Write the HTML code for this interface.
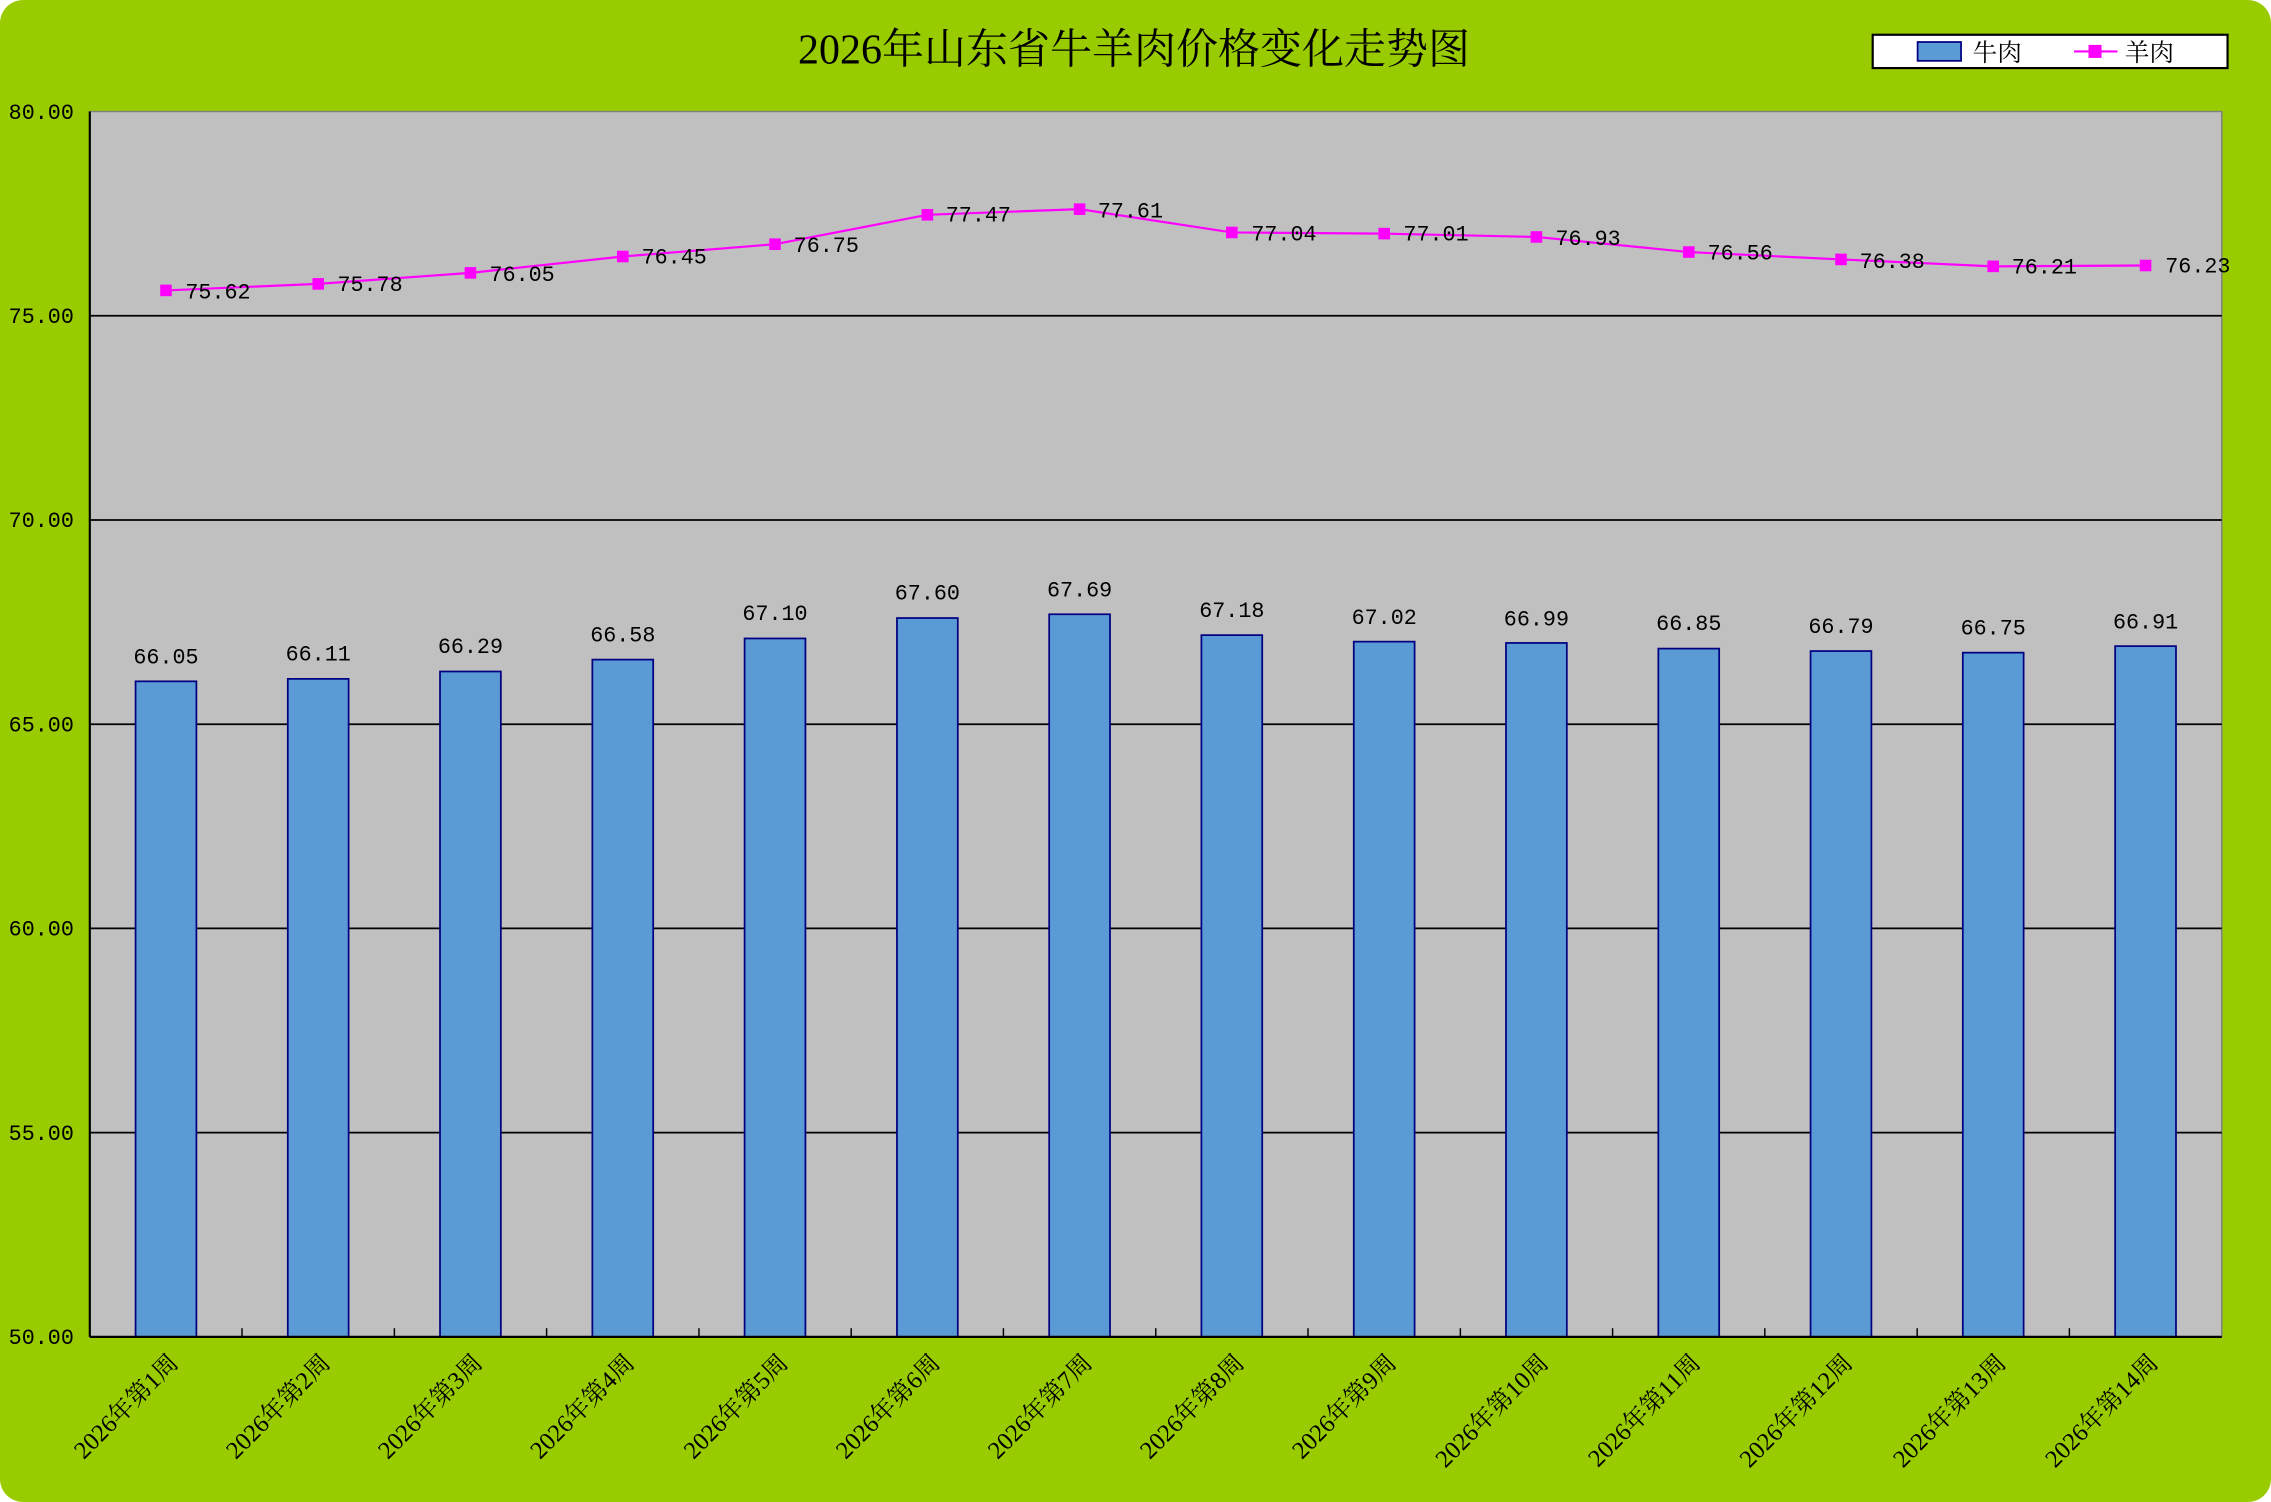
<!DOCTYPE html>
<html><head><meta charset="utf-8"><style>
html,body{margin:0;padding:0;background:#fff;}
svg{display:block;}
text{font-family:"Liberation Serif","Noto Serif CJK SC",serif;fill:#000;}
.m{font-family:"Liberation Mono","Noto Serif CJK SC",monospace;}
</style></head><body>
<svg width="2271" height="1502" viewBox="0 0 1568 1037" preserveAspectRatio="none" xmlns="http://www.w3.org/2000/svg">
<rect x="0" y="0" width="1568" height="1037" rx="16" fill="#99cc00"/>
<text x="783" y="44" font-size="29" text-anchor="middle">2026年山东省牛羊肉价格变化走势图</text>
<rect x="1293" y="24" width="245" height="23" fill="#fff" stroke="#000" stroke-width="1.5"/>
<rect x="1324" y="29" width="30" height="13" fill="#5b9bd5" stroke="#000080" stroke-width="1.2"/>
<text x="1362" y="42" font-size="17">牛肉</text>
<line x1="1432" y1="35.5" x2="1462" y2="35.5" stroke="#ff00ff" stroke-width="1.5"/>
<rect x="1442" y="31" width="9" height="9" fill="#ff00ff"/>
<text x="1467" y="42" font-size="17">羊肉</text>
<rect x="62" y="77" width="1472" height="846" fill="#c0c0c0" stroke="#808080" stroke-width="1"/>
<g stroke="#000" stroke-width="1.2">
<line x1="62" y1="218" x2="1534" y2="218"/>
<line x1="62" y1="359" x2="1534" y2="359"/>
<line x1="62" y1="500" x2="1534" y2="500"/>
<line x1="62" y1="641" x2="1534" y2="641"/>
<line x1="62" y1="782" x2="1534" y2="782"/>
</g>
<g font-size="15" text-anchor="end" class="m">
<text class="m" x="51" y="82">80.00</text><text class="m" x="51" y="223">75.00</text><text class="m" x="51" y="364">70.00</text>
<text class="m" x="51" y="505">65.00</text><text class="m" x="51" y="646">60.00</text><text class="m" x="51" y="787">55.00</text><text class="m" x="51" y="928">50.00</text>
</g>
<g fill="#5b9bd5" stroke="#000080" stroke-width="1.2">
<rect x="93.6" y="470.4" width="42" height="452.6"/>
<rect x="198.7" y="468.7" width="42" height="454.3"/>
<rect x="303.8" y="463.6" width="42" height="459.4"/>
<rect x="409" y="455.4" width="42" height="467.6"/>
<rect x="514.1" y="440.8" width="42" height="482.2"/>
<rect x="619.3" y="426.7" width="42" height="496.3"/>
<rect x="724.4" y="424.1" width="42" height="498.9"/>
<rect x="829.5" y="438.5" width="42" height="484.5"/>
<rect x="934.7" y="443" width="42" height="480"/>
<rect x="1039.8" y="443.9" width="42" height="479.1"/>
<rect x="1145" y="447.8" width="42" height="475.2"/>
<rect x="1250.1" y="449.5" width="42" height="473.5"/>
<rect x="1355.2" y="450.6" width="42" height="472.4"/>
<rect x="1460.4" y="446.1" width="42" height="476.9"/>
</g>
<g stroke="#000" stroke-width="1.5">
<line x1="62" y1="77" x2="62" y2="923"/>
<line x1="62" y1="923" x2="1534" y2="923"/>
</g>
<g stroke="#000" stroke-width="1">
<line x1="167.1" y1="917" x2="167.1" y2="923"/><line x1="272.3" y1="917" x2="272.3" y2="923"/>
<line x1="377.4" y1="917" x2="377.4" y2="923"/><line x1="482.6" y1="917" x2="482.6" y2="923"/>
<line x1="587.7" y1="917" x2="587.7" y2="923"/><line x1="692.8" y1="917" x2="692.8" y2="923"/>
<line x1="798" y1="917" x2="798" y2="923"/><line x1="903.1" y1="917" x2="903.1" y2="923"/>
<line x1="1008.3" y1="917" x2="1008.3" y2="923"/><line x1="1113.4" y1="917" x2="1113.4" y2="923"/>
<line x1="1218.5" y1="917" x2="1218.5" y2="923"/><line x1="1323.7" y1="917" x2="1323.7" y2="923"/>
<line x1="1428.8" y1="917" x2="1428.8" y2="923"/>
</g>
<g font-size="15" text-anchor="middle">
<text class="m" x="114.6" y="458">66.05</text><text class="m" x="219.7" y="456">66.11</text><text class="m" x="324.8" y="451">66.29</text>
<text class="m" x="430" y="443">66.58</text><text class="m" x="535.1" y="428">67.10</text><text class="m" x="640.3" y="414">67.60</text>
<text class="m" x="745.4" y="412">67.69</text><text class="m" x="850.5" y="426">67.18</text><text class="m" x="955.7" y="431">67.02</text>
<text class="m" x="1060.8" y="432">66.99</text><text class="m" x="1166" y="435">66.85</text><text class="m" x="1271.1" y="437">66.79</text>
<text class="m" x="1376.2" y="438">66.75</text><text class="m" x="1481.4" y="434">66.91</text>
</g>
<polyline fill="none" stroke="#ff00ff" stroke-width="1.5" points="114.6,200.5 219.7,196 324.8,188.4 430,177.1 535.1,168.6 640.3,148.3 745.4,144.4 850.5,160.5 955.7,161.3 1060.8,163.6 1166,174 1271.1,179.1 1376.2,183.9 1481.4,183.3"/>
<g fill="#ff00ff">
<rect x="110.6" y="196.5" width="8" height="8"/><rect x="215.7" y="192" width="8" height="8"/><rect x="320.8" y="184.4" width="8" height="8"/>
<rect x="426" y="173.1" width="8" height="8"/><rect x="531.1" y="164.6" width="8" height="8"/><rect x="636.3" y="144.3" width="8" height="8"/>
<rect x="741.4" y="140.4" width="8" height="8"/><rect x="846.5" y="156.5" width="8" height="8"/><rect x="951.7" y="157.3" width="8" height="8"/>
<rect x="1056.8" y="159.6" width="8" height="8"/><rect x="1162" y="170" width="8" height="8"/><rect x="1267.1" y="175.1" width="8" height="8"/>
<rect x="1372.2" y="179.9" width="8" height="8"/><rect x="1477.4" y="179.3" width="8" height="8"/>
</g>
<g font-size="15">
<text class="m" x="128" y="206">75.62</text><text class="m" x="233" y="201">75.78</text><text class="m" x="338" y="194">76.05</text>
<text class="m" x="443" y="182">76.45</text><text class="m" x="548" y="174">76.75</text><text class="m" x="653" y="153">77.47</text>
<text class="m" x="758" y="150">77.61</text><text class="m" x="864" y="166">77.04</text><text class="m" x="969" y="166">77.01</text>
<text class="m" x="1074" y="169">76.93</text><text class="m" x="1179" y="179">76.56</text><text class="m" x="1284" y="185">76.38</text>
<text class="m" x="1389" y="189">76.21</text><text class="m" x="1495" y="188">76.23</text>
</g>
<g font-size="17" text-anchor="end">
<text transform="translate(124,942) rotate(-45)">2026年第1周</text>
<text transform="translate(229,942) rotate(-45)">2026年第2周</text>
<text transform="translate(334,942) rotate(-45)">2026年第3周</text>
<text transform="translate(439,942) rotate(-45)">2026年第4周</text>
<text transform="translate(545,942) rotate(-45)">2026年第5周</text>
<text transform="translate(650,942) rotate(-45)">2026年第6周</text>
<text transform="translate(755,942) rotate(-45)">2026年第7周</text>
<text transform="translate(860,942) rotate(-45)">2026年第8周</text>
<text transform="translate(965,942) rotate(-45)">2026年第9周</text>
<text transform="translate(1070,942) rotate(-45)">2026年第10周</text>
<text transform="translate(1175,942) rotate(-45)">2026年第11周</text>
<text transform="translate(1280,942) rotate(-45)">2026年第12周</text>
<text transform="translate(1386,942) rotate(-45)">2026年第13周</text>
<text transform="translate(1491,942) rotate(-45)">2026年第14周</text>
</g>
</svg>
</body></html>
